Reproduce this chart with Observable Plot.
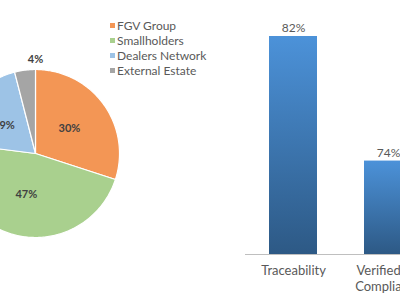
<!DOCTYPE html>
<html>
<head>
<meta charset="utf-8">
<script src="https://cdn.jsdelivr.net/npm/d3@7"></script>
<script src="https://cdn.jsdelivr.net/npm/@observablehq/plot@0.6"></script>
<style>
  html, body { margin: 0; padding: 0; background: #fff; }
  #root { position: relative; width: 400px; height: 300px; overflow: hidden; background: #fff; font-family: Lato, "Open Sans", sans-serif; }
  .layer { position: absolute; left: 0; top: 0; }
  .layer svg { max-width: none !important; }
  #legend { position: absolute; left: 110px; top: 18px; font-size: 12px; color: #595959; line-height: 15px; }
  #legend .row { display: flex; align-items: center; white-space: nowrap; }
  #legend .sw { width: 5px; height: 5px; margin-right: 2px; }
</style>
</head>
<body>
<div id="root">
  <div id="bars" class="layer"></div>
  <div id="pie" class="layer"></div>
  <div id="legend"></div>
</div>
<script>
// ---- data ----
const pieNames = ["FGV Group", "Smallholders", "Dealers Network", "External Estate"];
const pieShares = [30, 47, 19, 4];
const pieColors = ["#F39655", "#A9D08E", "#9DC3E6", "#A5A5A5"];

const barCategories = ["Traceability", "Verified for Compliance"];
const barValues = [82, 74];
const barTickLabels = ["Traceability", "Verified for\nCompliance"];
const barAxisMin = 68;

// ---- pie geometry from shares ----
const total = d3.sum(pieShares);
let acc = 0;
const slices = pieNames.map((name, i) => {
  const a0 = acc / total * 2 * Math.PI;
  acc += pieShares[i];
  const a1 = acc / total * 2 * Math.PI;
  return {name, share: pieShares[i], a0, a1};
});
const slicePts = [];
for (const s of slices) {
  slicePts.push({name: s.name, x: 0, y: 0});
  const n = Math.max(2, Math.ceil((s.a1 - s.a0) / (Math.PI / 180)));
  for (let k = 0; k <= n; k++) {
    const a = s.a0 + (s.a1 - s.a0) * k / n;
    slicePts.push({name: s.name, x: Math.sin(a), y: Math.cos(a)});
  }
  slicePts.push({name: s.name, x: 0, y: 0});
}
const pieLabels = slices.map(s => {
  const outside = s.share < 5;
  const a = outside ? s.a1 : (s.a0 + s.a1) / 2;
  const r = outside ? 1.12 : 0.5;
  return {text: s.share + "%", x: Math.sin(a) * r, y: Math.cos(a) * r};
});

const cx = 35, cy = 153, R = 84;
const pie = Plot.plot({
  width: 240, height: 300,
  style: {background: "transparent", overflow: "visible", maxWidth: "none"},
  x: {domain: [-1, 1], range: [cx - R, cx + R], axis: null},
  y: {domain: [-1, 1], range: [cy + R, cy - R], axis: null},
  color: {domain: pieNames, range: pieColors},
  marks: [
    Plot.line(slicePts, {x: "x", y: "y", z: "name", fill: "name", stroke: "white", strokeWidth: 1.2, strokeLinejoin: "round"}),
    Plot.text(pieLabels, {x: "x", y: "y", text: "text", fontSize: 11, fontWeight: "bold", fill: "#404040", fontFamily: "Lato, sans-serif"})
  ]
});
document.getElementById("pie").appendChild(pie);

// legend
const legend = document.getElementById("legend");
pieNames.forEach((n, i) => {
  const row = document.createElement("div");
  row.className = "row";
  const sw = document.createElement("span");
  sw.className = "sw";
  sw.style.background = pieColors[i];
  const t = document.createElement("span");
  t.textContent = n;
  row.appendChild(sw); row.appendChild(t);
  legend.appendChild(row);
});

// ---- bars ----
const barData = barCategories.map((c, i) => ({cat: c, value: barValues[i], label: barTickLabels[i]}));
const defs = () => {
  const d = d3.create("svg:defs");
  const g = d.append("linearGradient").attr("id", "barGrad")
    .attr("x1", 0).attr("y1", 0).attr("x2", 0).attr("y2", 1);
  g.append("stop").attr("offset", "0%").attr("stop-color", "#4C92D9");
  g.append("stop").attr("offset", "100%").attr("stop-color", "#2D5985");
  return d.node();
};
const bars = Plot.plot({
  width: 500, height: 300,
  marginLeft: 245, marginRight: 65, marginTop: 0, marginBottom: 0,
  style: {background: "transparent", overflow: "visible", maxWidth: "none"},
  x: {domain: barCategories, paddingInner: 0.495, paddingOuter: 0.2475, axis: null},
  y: {domain: [barAxisMin, 82], range: [254, 36], axis: null},
  marks: [
    defs,
    Plot.barY(barData, {x: "cat", y1: barAxisMin, y2: "value", fill: "url(#barGrad)"}),
    Plot.ruleY([barAxisMin], {stroke: "#BFBFBF"}),
    Plot.text(barData, {x: "cat", y: "value", text: d => d.value + "%", dy: -8, fontSize: 12, fill: "#595959", fontFamily: "Lato, sans-serif"}),
    Plot.text(barData, {x: "cat", y: barAxisMin, text: "label", lineAnchor: "top", dy: 9, fontSize: 13, lineHeight: 1.23, fill: "#595959", fontFamily: "Lato, sans-serif"})
  ]
});
document.getElementById("bars").appendChild(bars);
</script>
</body>
</html>
